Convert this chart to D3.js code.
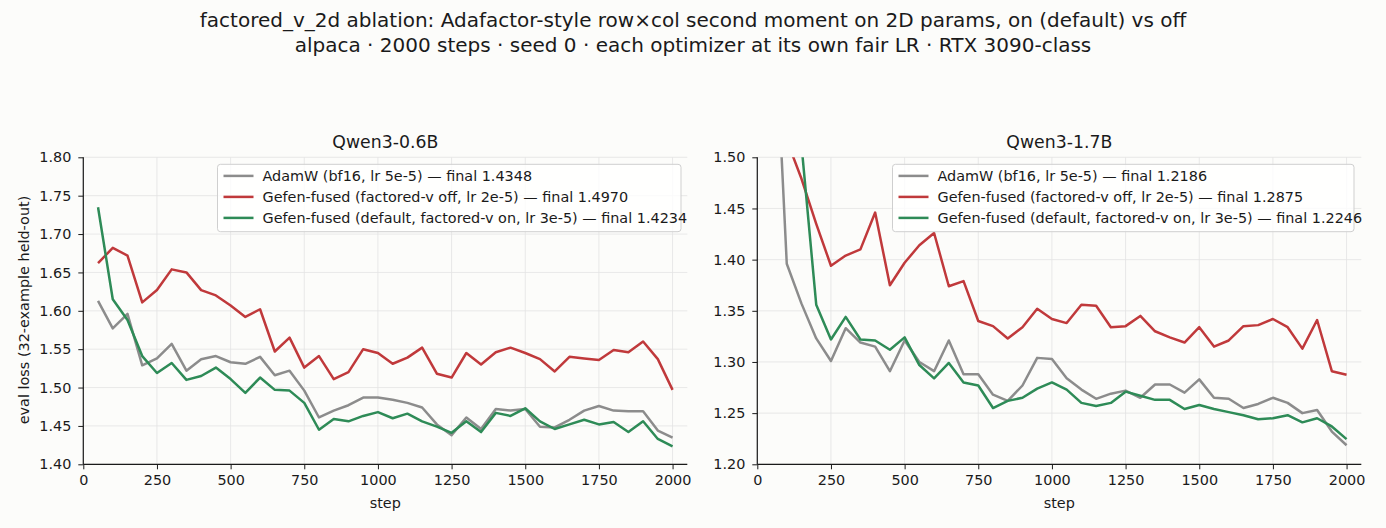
<!DOCTYPE html>
<html>
<head>
<meta charset="utf-8">
<script src="https://cdn.jsdelivr.net/npm/d3@7"></script>
<style>
  html, body { margin: 0; padding: 0; background: #fcfcfa; }
  svg { display: block; font-family: "DejaVu Sans", sans-serif; }
</style>
</head>
<body>
<svg id="chart" width="1386" height="528"></svg>
<script>
// ---------- data ----------
const steps = [50,100,150,200,250,300,350,400,450,500,550,600,650,700,750,800,850,900,950,1000,
               1050,1100,1150,1200,1250,1300,1350,1400,1450,1500,1550,1600,1650,1700,1750,1800,1850,1900,1950,2000];

const seriesNames = [
  "AdamW (bf16, lr 5e-5)",
  "Gefen-fused (factored-v off, lr 2e-5)",
  "Gefen-fused (default, factored-v on, lr 3e-5)"
];

// Qwen3-0.6B
const small_adamw = [1.613,1.577,1.596,1.529,1.538,1.557,1.522,1.537,1.541,1.533,1.531,1.540,1.516,1.522,1.496,1.461,1.470,1.477,1.487,1.487,
                     1.484,1.480,1.474,1.452,1.438,1.461,1.446,1.472,1.470,1.472,1.449,1.448,1.458,1.470,1.476,1.470,1.469,1.469,1.444,1.4348];
const small_off   = [1.662,1.682,1.672,1.611,1.627,1.654,1.650,1.627,1.620,1.607,1.592,1.602,1.547,1.565,1.526,1.541,1.511,1.520,1.550,1.545,
                     1.531,1.539,1.552,1.518,1.513,1.545,1.530,1.546,1.552,1.545,1.537,1.521,1.540,1.538,1.536,1.549,1.546,1.560,1.537,1.4970];
const small_on    = [1.735,1.615,1.588,1.541,1.519,1.532,1.510,1.515,1.526,1.511,1.493,1.513,1.497,1.496,1.480,1.445,1.459,1.456,1.463,1.468,
                     1.460,1.466,1.456,1.449,1.441,1.456,1.442,1.467,1.463,1.473,1.456,1.446,1.452,1.458,1.452,1.455,1.442,1.456,1.433,1.4234];

// Qwen3-1.7B
const large_adamw = [1.695,1.396,1.357,1.323,1.301,1.333,1.319,1.315,1.291,1.321,1.300,1.291,1.321,1.288,1.288,1.268,1.262,1.277,1.304,1.303,
                     1.284,1.273,1.264,1.269,1.272,1.265,1.278,1.278,1.270,1.283,1.265,1.264,1.255,1.259,1.265,1.260,1.250,1.253,1.232,1.2186];
const large_off   = [1.600,1.517,1.479,1.435,1.394,1.404,1.410,1.446,1.375,1.397,1.414,1.426,1.374,1.379,1.340,1.335,1.323,1.334,1.352,1.342,
                     1.338,1.356,1.355,1.334,1.335,1.345,1.330,1.324,1.319,1.334,1.315,1.321,1.335,1.336,1.342,1.334,1.313,1.341,1.291,1.2875];
const large_on    = [1.760,1.640,1.512,1.356,1.322,1.344,1.322,1.321,1.312,1.324,1.297,1.284,1.299,1.280,1.277,1.255,1.262,1.265,1.274,1.280,
                     1.273,1.260,1.257,1.260,1.271,1.267,1.263,1.263,1.254,1.258,1.254,1.251,1.248,1.244,1.245,1.248,1.241,1.245,1.237,1.2246];

const xTicks = [0,250,500,750,1000,1250,1500,1750,2000];
const smallYTicks = [1.40,1.45,1.50,1.55,1.60,1.65,1.70,1.75,1.80];
const largeYTicks = [1.20,1.25,1.30,1.35,1.40,1.45,1.50];

const colors = ["#8c8c8c", "#c0393b", "#2e8b57"];

// ---------- drawing ----------
const svg = d3.select("#chart");
svg.append("rect").attr("width",1386).attr("height",528).attr("fill","#fcfcfa");

svg.append("text").attr("x",693).attr("y",27).attr("text-anchor","middle")
  .attr("font-size","20px").attr("fill","#1a1a1a")
  .text("factored_v_2d ablation: Adafactor-style row\u00d7col second moment on 2D params, on (default) vs off");
svg.append("text").attr("x",693).attr("y",52).attr("text-anchor","middle")
  .attr("font-size","20px").attr("fill","#1a1a1a")
  .text("alpaca \u00b7 2000 steps \u00b7 seed 0 \u00b7 each optimizer at its own fair LR \u00b7 RTX 3090-class");

svg.append("text")
  .attr("transform","translate(29,310) rotate(-90)")
  .attr("text-anchor","middle").attr("font-size","14.4px").attr("fill","#1a1a1a")
  .text("eval loss (32-example held-out)");

function drawPanel(opts) {
  const {left, width, top, bottom, yDomain, yTicks, title, series, finals, legendX, legendW, id} = opts;
  const x = d3.scaleLinear().domain([0, 2050]).range([left, left + width]);
  const y = d3.scaleLinear().domain(yDomain).range([bottom, top]);
  const g = svg.append("g");

  // grid
  g.append("g").selectAll("line").data(xTicks).join("line")
    .attr("x1", d => x(d)).attr("x2", d => x(d)).attr("y1", top).attr("y2", bottom)
    .attr("stroke", "#e3e3e3").attr("stroke-width", 0.8);
  g.append("g").selectAll("line").data(yTicks).join("line")
    .attr("x1", left).attr("x2", left + width).attr("y1", d => y(d)).attr("y2", d => y(d))
    .attr("stroke", "#e3e3e3").attr("stroke-width", 0.8);

  // clip
  svg.append("clipPath").attr("id", id).append("rect")
    .attr("x", left).attr("y", top).attr("width", width).attr("height", bottom - top);

  const line = d3.line().x((d, i) => x(steps[i])).y(d => y(d));
  const lg = g.append("g").attr("clip-path", `url(#${id})`);
  series.forEach((s, k) => {
    lg.append("path").datum(s).attr("d", line)
      .attr("fill", "none").attr("stroke", colors[k]).attr("stroke-width", 2.5)
      .attr("stroke-linejoin", "round").attr("stroke-linecap", "butt");
  });

  // axes
  const xAxis = d3.axisBottom(x).tickValues(xTicks).tickFormat(d3.format("d")).tickSize(5).tickPadding(5);
  const yAxis = d3.axisLeft(y).tickValues(yTicks).tickFormat(d3.format(".2f")).tickSize(5).tickPadding(7);
  const gx = g.append("g").attr("transform", `translate(0,${bottom})`).call(xAxis);
  const gy = g.append("g").attr("transform", `translate(${left},0)`).call(yAxis);
  [gx, gy].forEach(a => {
    a.selectAll("text").attr("font-size", "14.4px").attr("fill", "#1a1a1a").attr("font-family", "DejaVu Sans, sans-serif");
    a.selectAll("line").attr("stroke", "#1a1a1a").attr("stroke-width", 1);
    a.select(".domain").attr("stroke", "#1a1a1a").attr("stroke-width", 1.2);
  });
  gy.select(".domain").attr("d", `M0,${top}V${bottom}`);
  gx.select(".domain").attr("d", `M${left},0H${left + width}`);

  g.append("text").attr("x", left + width / 2).attr("y", 508).attr("text-anchor", "middle")
    .attr("font-size", "14.4px").attr("fill", "#1a1a1a").text("step");
  g.append("text").attr("x", left + width / 2).attr("y", 148).attr("text-anchor", "middle")
    .attr("font-size", "17.3px").attr("fill", "#1a1a1a").text(title);

  // legend
  const lgd = g.append("g").attr("transform", `translate(${legendX},164.3)`);
  lgd.append("rect").attr("x", 0).attr("y", 0).attr("width", legendW).attr("height", 67.4)
    .attr("rx", 3).attr("fill", "#ffffff").attr("fill-opacity", 0.8)
    .attr("stroke", "#cfcfcf").attr("stroke-width", 1);
  seriesNames.forEach((n, k) => {
    const yy = 11.6 + k * 21;
    lgd.append("line").attr("x1", 6).attr("x2", 36).attr("y1", yy).attr("y2", yy)
      .attr("stroke", colors[k]).attr("stroke-width", 2.5);
    lgd.append("text").attr("x", 45).attr("y", yy + 5).attr("font-size", "14.4px").attr("fill", "#1a1a1a")
      .text(`${n} \u2014 final ${finals[k]}`);
  });
}

drawPanel({
  id: "clipA", left: 83.3, width: 604, top: 157.3, bottom: 464.3,
  yDomain: [1.40, 1.80], yTicks: smallYTicks, title: "Qwen3-0.6B",
  series: [small_adamw, small_off, small_on],
  finals: [small_adamw[39].toFixed(4), small_off[39].toFixed(4), small_on[39].toFixed(4)],
  legendX: 217.5, legendW: 463.5
});
drawPanel({
  id: "clipB", left: 757.3, width: 604, top: 157.3, bottom: 464.3,
  yDomain: [1.20, 1.50], yTicks: largeYTicks, title: "Qwen3-1.7B",
  series: [large_adamw, large_off, large_on],
  finals: [large_adamw[39].toFixed(4), large_off[39].toFixed(4), large_on[39].toFixed(4)],
  legendX: 892.5, legendW: 461.5
});
</script>
</body>
</html>
